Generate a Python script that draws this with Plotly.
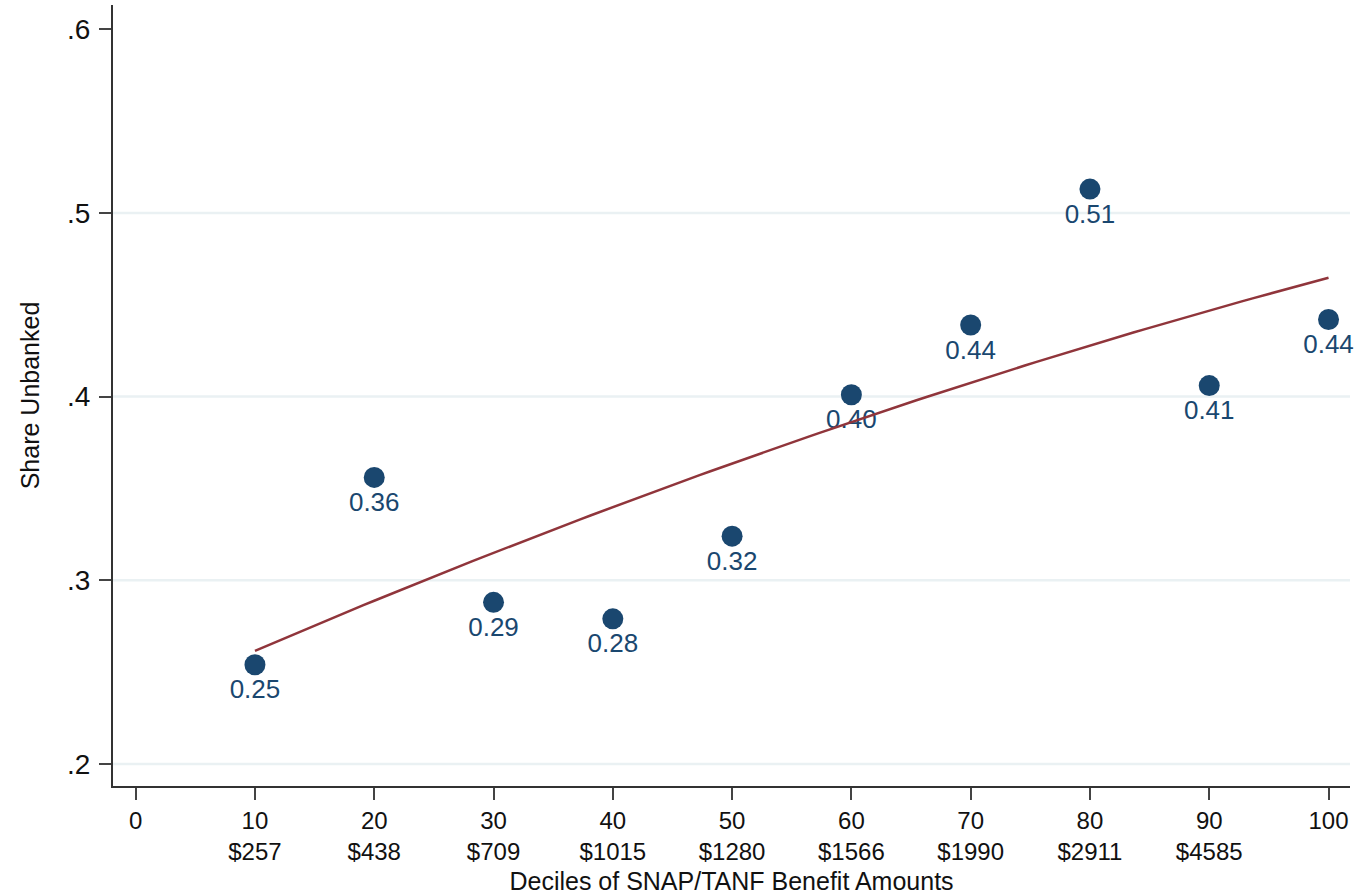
import numpy as np
import plotly.graph_objects as go

# Deciles of SNAP/TANF benefit amounts and the share unbanked in each
deciles = [10, 20, 30, 40, 50, 60, 70, 80, 90, 100]
benefit_cutoffs = ["$257", "$438", "$709", "$1015", "$1280",
                   "$1566", "$1990", "$2911", "$4585", ""]
share_unbanked = [0.254, 0.356, 0.288, 0.279, 0.324,
                  0.401, 0.439, 0.513, 0.406, 0.442]

x_tick_values = [0, 10, 20, 30, 40, 50, 60, 70, 80, 90, 100]
y_tick_values = [0.2, 0.3, 0.4, 0.5, 0.6]
y_tick_labels = [".2", ".3", ".4", ".5", ".6"]
grid_values = [0.2, 0.3, 0.4, 0.5]

NAVY = "#1a476f"
MAROON = "#90353b"
FONT = "Liberation Sans, Arial, Helvetica, sans-serif"

# x tick labels: decile on the first line, benefit cutoff below
x_tick_text = ["0"]
for d, c in zip(deciles, benefit_cutoffs):
    x_tick_text.append(f"{d}<br>{c}" if c else f"{d}")

# quadratic fit of share unbanked on decile
coef = np.polyfit(deciles, share_unbanked, 2)
fit_x = np.linspace(min(deciles), max(deciles), 100)
fit_y = np.polyval(coef, fit_x)

fig = go.Figure()

fig.add_trace(go.Scatter(
    x=deciles, y=share_unbanked, mode="markers+text",
    marker=dict(color=NAVY, size=21, line=dict(width=0)),
    texttemplate="%{y:.2f}", textposition="bottom center",
    textfont=dict(family=FONT, size=26, color=NAVY),
    showlegend=False, cliponaxis=False,
))

fig.add_trace(go.Scatter(
    x=fit_x, y=fit_y, mode="lines",
    line=dict(color=MAROON, width=2.5),
    showlegend=False,
))

for v in grid_values:
    fig.add_shape(type="line", xref="paper", yref="y", x0=0, x1=1, y0=v, y1=v,
                  line=dict(color="#eaf1f3", width=2.5), layer="below")

fig.update_layout(
    width=1358, height=896,
    margin=dict(l=113, r=8, t=5, b=106),
    paper_bgcolor="white", plot_bgcolor="white",
    font=dict(family=FONT, color="#111111"),
    xaxis=dict(
        range=[-1.9, 101.8], tickmode="array",
        tickvals=x_tick_values, ticktext=x_tick_text,
        ticks="outside", ticklen=12, tickwidth=2, tickcolor="#444444",
        showline=True, linecolor="#333333", linewidth=2,
        showgrid=False, zeroline=False,
        tickfont=dict(family=FONT, size=24, color="#111111"),
        title=dict(text="Deciles of SNAP/TANF Benefit Amounts",
                   font=dict(family=FONT, size=25, color="#111111"),
                   standoff=8),
    ),
    yaxis=dict(
        range=[0.188, 0.6132], tickmode="array",
        tickvals=y_tick_values, ticktext=y_tick_labels,
        ticks="outside", ticklen=12, tickwidth=2, tickcolor="#444444",
        ticklabelstandoff=3,
        showline=True, linecolor="#333333", linewidth=2,
        showgrid=False, zeroline=False,
        tickfont=dict(family=FONT, size=28, color="#111111"),
        title=dict(text="Share Unbanked",
                   font=dict(family=FONT, size=25, color="#111111"),
                   standoff=20),
    ),
)

fig.write_html("out.html")
